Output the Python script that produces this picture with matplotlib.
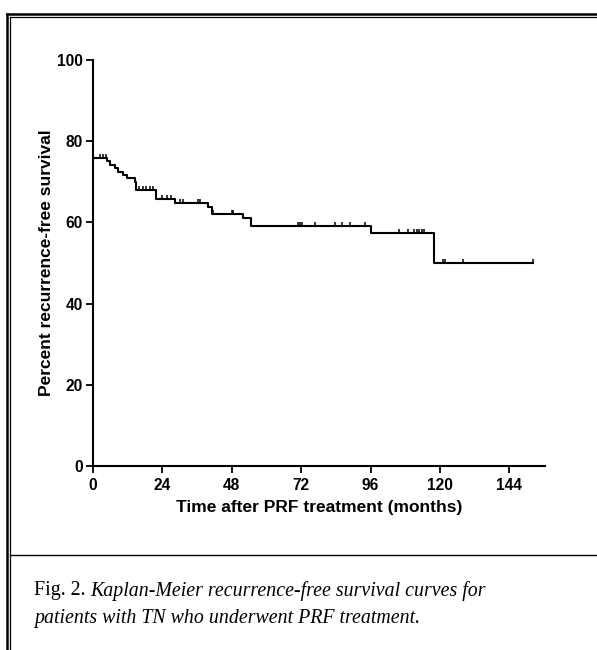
import numpy as np
import matplotlib.pyplot as plt
from matplotlib.lines import Line2D

# ================= DATA =================
# Kaplan-Meier steps (months, percent recurrence-free)
step_t = [0, 5.0, 5.8, 7.5, 8.7, 10.4, 11.6, 14.4, 15.0, 21.9, 28.5,
          39.8, 41.0, 51.9, 54.8, 96.0, 118.0, 152.3]
step_s = [75.8, 75.0, 74.1, 73.3, 72.5, 71.7, 70.9, 70.0, 68.0, 65.7, 64.7,
          63.7, 62.1, 61.0, 59.2, 57.3, 49.9, 49.9]

# censored observations
cens_t = [2.5, 3.5, 4.5,
          16.0, 17.2, 18.4, 19.6, 20.8,
          24.0, 25.5, 27.0,
          30.2, 31.2, 36.3, 36.9,
          41.5, 47.9, 48.5,
          71.0, 71.5, 72.1, 76.7, 83.7, 86.0, 88.9, 94.1,
          105.9, 109.0, 111.0, 111.9, 112.8, 113.7, 114.6,
          120.9, 121.7, 128.1, 152.3]

x_ticks = [0, 24, 48, 72, 96, 120, 144]
y_ticks = [0, 20, 40, 60, 80, 100]

# survival level at each censor time
cens_s = [step_s[np.searchsorted(step_t, t, side="right") - 1] for t in cens_t]

W, H = 597, 650
fig = plt.figure(figsize=(W / 100, H / 100), dpi=100)

# ================= AXES =================
ax = fig.add_axes([93 / W, 1 - 466 / H, (545 - 93) / W, (466 - 60) / H])
ax.step(step_t, step_s, where="post", color="black", lw=1.5)
ax.vlines(cens_t, cens_s, np.array(cens_s) + 1.0, color="black", lw=1.1)

ax.set_xlim(0, 156.3)
ax.set_ylim(0, 100)
ax.set_xticks(x_ticks)
ax.set_yticks(y_ticks)
for s in ["top", "right"]:
    ax.spines[s].set_visible(False)
for s in ["left", "bottom"]:
    ax.spines[s].set_linewidth(1.5)
ax.tick_params(axis="x", direction="out", length=5, width=1.3, pad=4)
ax.tick_params(axis="y", direction="out", length=5, width=1.3, pad=2.5)
for lab in ax.get_xticklabels() + ax.get_yticklabels():
    lab.set_fontfamily("Liberation Sans")
    lab.set_fontweight("bold")
    lab.set_fontsize(11.2)
ax.set_xlabel("Time after PRF treatment (months)", family="Liberation Sans",
              fontweight="bold", fontsize=12.5, labelpad=5)
ax.set_ylabel("Percent recurrence-free survival", family="Liberation Sans",
              fontweight="bold", fontsize=12.5, labelpad=2)

# ================= FRAME =================
def fline(xs, ys, lw):
    fig.add_artist(Line2D([x / W for x in xs], [1 - y / H for y in ys],
                          color="black", lw=lw, transform=fig.transFigure))

fline([6.5, 6.5], [13.5, H], 1.8)
fline([6.5, W], [13.5, 13.5], 1.8)
fline([10, 10], [17, H], 0.9)
fline([10, W], [17, 17], 0.9)
fline([10, W], [555, 555], 1.0)

# ================= CAPTION =================
cap_x, cap_y1, cap_y2 = 34 / W, 1 - 591 / H, 1 - 619 / H
fs = 14.3
t1 = fig.text(cap_x, cap_y1, "Fig. 2. ", family="Liberation Serif",
              fontsize=fs, va="center")
fig.canvas.draw()
bb = t1.get_window_extent()
fig.text(bb.x1 / W, cap_y1, "Kaplan-Meier recurrence-free survival curves for",
         family="Liberation Serif", style="italic", fontsize=fs, va="center")
fig.text(cap_x, cap_y2, "patients with TN who underwent PRF treatment.",
         family="Liberation Serif", style="italic", fontsize=fs, va="center")

fig.savefig("out.png", dpi=100)
